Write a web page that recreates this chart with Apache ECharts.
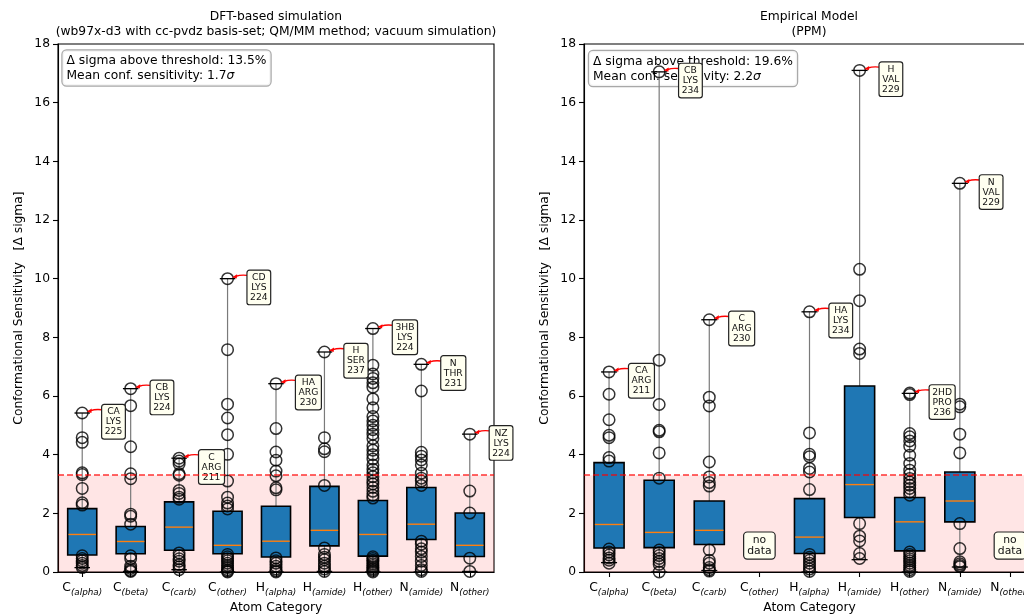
<!DOCTYPE html>
<html><head><meta charset="utf-8">
<script src="https://cdn.jsdelivr.net/npm/echarts@6/dist/echarts.min.js"></script>
<style>html,body{margin:0;padding:0;background:#fff}#c{width:1024px;height:614px}</style>
</head><body><div id="c"></div>
<script>
// ---------- data ----------
const catBase = ['C','C','C','C','H','H','H','N','N'];
const catSub  = ['alpha','beta','carb','other','alpha','amide','other','amide','other'];
const categories = catBase.map((b, i) => b + '(' + catSub[i] + ')');
const yTicksMax = 18;
const threshold = 3.3;

// box stats: [min, q1, median, q3, max]
const dftBoxes = [
  [0.15, 0.58, 1.28, 2.16, 5.42],
  [0.02, 0.62, 1.04, 1.55, 6.25],
  [0.08, 0.74, 1.53, 2.39, 3.88],
  [0.00, 0.62, 0.91, 2.07, 10.0],
  [0.00, 0.51, 1.05, 2.24, 6.42],
  [0.02, 0.89, 1.42, 2.92, 7.50],
  [0.00, 0.54, 1.28, 2.44, 8.30],
  [0.00, 1.11, 1.63, 2.88, 7.08],
  [0.02, 0.53, 0.91, 2.01, 4.70]
];
const ppmBoxes = [
  [0.32, 0.82, 1.62, 3.73, 6.82],
  [0.00, 0.83, 1.35, 3.13, 17.05],
  [0.05, 0.94, 1.42, 2.42, 8.60],
  null,
  [0.00, 0.63, 1.19, 2.50, 8.87],
  [0.42, 1.86, 2.98, 6.34, 17.10],
  [0.00, 0.72, 1.71, 2.54, 6.09],
  [0.17, 1.71, 2.42, 3.41, 13.25],
  null
];

// individual points outside the boxes
const dftPoints = [
  [5.42, 4.58, 4.42, 3.38, 3.32, 2.85, 2.36, 2.28, 0.55, 0.46, 0.38, 0.30, 0.22, 0.15],
  [6.25, 5.67, 4.27, 3.35, 3.18, 1.97, 1.90, 1.63, 0.55, 0.45, 0.20, 0.12, 0.05, 0.02],
  [3.88, 3.78, 3.68, 3.35, 3.30, 2.78, 2.68, 2.55, 2.48, 0.65, 0.55, 0.45, 0.37, 0.25, 0.17, 0.08],
  [10.0, 7.58, 5.72, 5.25, 4.68, 4.01, 3.10, 2.55, 2.35, 2.25, 2.15, 0.60, 0.52, 0.45, 0.38, 0.30, 0.22, 0.15, 0.08, 0.03, 0.00],
  [6.42, 4.89, 4.09, 3.81, 3.44, 3.28, 2.87, 2.80, 0.48, 0.38, 0.30, 0.20, 0.10, 0.04, 0.00],
  [7.50, 4.58, 4.20, 4.10, 2.95, 0.82, 0.60, 0.50, 0.42, 0.30, 0.20, 0.10, 0.02],
  [8.30, 7.05, 6.75, 6.60, 6.45, 6.30, 5.90, 5.60, 5.30, 5.15, 5.00, 4.85, 4.70, 4.55, 4.30, 4.15, 4.00, 3.85, 3.65, 3.50, 3.38, 3.25, 3.10, 3.00, 2.88, 2.75, 2.62, 2.52,
   0.52, 0.46, 0.40, 0.34, 0.28, 0.22, 0.16, 0.10, 0.05, 0.00],
  [7.08, 6.17, 4.08, 3.95, 3.82, 3.65, 3.37, 3.20, 3.10, 2.95, 1.05, 0.95, 0.79, 0.68, 0.53, 0.37, 0.22, 0.08, 0.02],
  [4.70, 2.76, 2.01, 0.47, 0.02]
];
const ppmPoints = [
  [6.82, 6.06, 5.19, 4.66, 4.58, 3.90, 3.78, 0.78, 0.68, 0.58, 0.48, 0.40, 0.30],
  [17.05, 7.22, 5.71, 4.83, 4.78, 4.06, 3.20, 0.75, 0.66, 0.56, 0.46, 0.36, 0.26, 0.00],
  [8.60, 5.96, 5.66, 3.75, 3.24, 3.05, 2.93, 0.75, 0.40, 0.30, 0.15, 0.08, 0.03],
  [],
  [8.87, 4.74, 4.01, 3.93, 3.53, 3.41, 2.81, 0.60, 0.50, 0.40, 0.30, 0.20, 0.10, 0.02],
  [17.10, 10.32, 9.25, 7.60, 7.45, 1.65, 1.22, 1.06, 0.63, 0.46],
  [6.10, 6.05, 4.72, 4.61, 4.47, 4.29, 3.98, 3.70, 3.47, 3.33, 3.19, 3.07, 2.96, 2.85, 2.73, 2.62,
   0.68, 0.60, 0.52, 0.45, 0.38, 0.30, 0.22, 0.15, 0.08, 0.02],
  [13.25, 5.72, 5.63, 4.70, 4.06, 1.65, 0.80, 0.35, 0.28, 0.22, 0.18],
  []
];

// labels of the maximum point of each category
const dftMaxLabels = ['CA\nLYS\n225','CB\nLYS\n224','C\nARG\n211','CD\nLYS\n224','HA\nARG\n230','H\nSER\n237','3HB\nLYS\n224','N\nTHR\n231','NZ\nLYS\n224'];
const ppmMaxLabels = ['CA\nARG\n211','CB\nLYS\n234','C\nARG\n230', null,'HA\nLYS\n234','H\nVAL\n229','2HD\nPRO\n236','N\nVAL\n229', null];
const noDataY = 0.9;

const dftStats = { above: '13.5%', mean: '1.7' };
const ppmStats = { above: '19.6%', mean: '2.2' };

// ---------- helpers ----------
const FF = '"DejaVu Sans", sans-serif';
const FS = 12.3;
const mctx = document.createElement('canvas').getContext('2d');
function textW(s, font) { mctx.font = font; return mctx.measureText(s).width; }

function boxRender(params, api) {
  const i = api.value(0);
  const band = api.size([1, 0])[0];
  const bw = band * 0.6, cw = band * 0.32;
  const pmn = api.coord([i, api.value(1)]), pq1 = api.coord([i, api.value(2)]),
        pmd = api.coord([i, api.value(3)]), pq3 = api.coord([i, api.value(4)]),
        pmx = api.coord([i, api.value(5)]);
  const cx = pmn[0];
  return { type: 'group', children: [
    { type: 'line', shape: { x1: cx, y1: pmn[1], x2: cx, y2: pq1[1] }, style: { stroke: '#7a7a7a', lineWidth: 1.2 } },
    { type: 'line', shape: { x1: cx, y1: pq3[1], x2: cx, y2: pmx[1] }, style: { stroke: '#7a7a7a', lineWidth: 1.2 } },
    { type: 'line', shape: { x1: cx - cw / 2, y1: pmn[1], x2: cx + cw / 2, y2: pmn[1] }, style: { stroke: '#000', lineWidth: 1.3 } },
    { type: 'line', shape: { x1: cx - cw / 2, y1: pmx[1], x2: cx + cw / 2, y2: pmx[1] }, style: { stroke: '#000', lineWidth: 1.3 } },
    { type: 'rect', shape: { x: cx - bw / 2, y: pq3[1], width: bw, height: pq1[1] - pq3[1] }, style: { fill: '#1f77b4', stroke: '#000', lineWidth: 1.6 } },
    { type: 'line', shape: { x1: cx - bw / 2 + 0.8, y1: pmd[1], x2: cx + bw / 2 - 0.8, y2: pmd[1] }, style: { stroke: '#ff7f0e', lineWidth: 1.4 } }
  ]};
}

const annFont = '9.2px ' + FF;
function annotRender(labels) {
  return function (params, api) {
    const i = api.value(0);
    const p = api.coord([i, api.value(1)]);
    const txt = labels[i];
    const lines = txt.split('\n');
    const w = Math.max(...lines.map(l => textW(l, annFont))) + 5;
    const x = p[0], y = p[1];
    return { type: 'group', children: [
      { type: 'bezierCurve', shape: { x1: x + 19.5, y1: y - 3.3, cpx1: x + 13, cpy1: y - 4, x2: x + 8.5, y2: y - 2.4 },
        style: { stroke: '#ff0000', lineWidth: 1.4, fill: null } },
      { type: 'polygon', shape: { points: [[x + 4.5, y - 1.5], [x + 9.6, y - 4.4], [x + 9.2, y - 0.1]] }, style: { fill: '#ff0000' } },
      { type: 'text', x: x + 20 + w / 2, y: y - 8,
        style: { text: txt, font: annFont, fill: '#111', align: 'center', verticalAlign: 'top', lineHeight: 10,
                 backgroundColor: '#fffff0', borderColor: '#222', borderWidth: 1.2, borderRadius: 2, padding: [2, 2.5, 1.5, 2.5] } }
    ]};
  };
}

function noDataRender(params, api) {
  const p = api.coord([api.value(0), api.value(1)]);
  return { type: 'text', x: p[0], y: p[1],
    style: { text: 'no\ndata', font: '10.8px ' + FF, fill: '#111', align: 'center', verticalAlign: 'middle', lineHeight: 11.5,
             backgroundColor: '#fffff0', borderColor: '#222', borderWidth: 1.2, borderRadius: 3, padding: [2, 3, 1, 3] } };
}

function panelSeries(idx, boxes, points, labels) {
  const boxData = [], annData = [], noData = [];
  boxes.forEach((b, i) => {
    if (b) { boxData.push([i, ...b]); if (labels[i]) annData.push([i, b[4]]); }
    else noData.push([i, noDataY]);
  });
  const pts = [];
  points.forEach((arr, i) => arr.forEach(v => pts.push([i, v])));
  return [
    { type: 'line', xAxisIndex: idx, yAxisIndex: idx, data: [], z: 1, silent: true,
      markArea: { silent: true, itemStyle: { color: 'rgba(255,0,0,0.1)' }, data: [[{ yAxis: 0 }, { yAxis: threshold }]] },
      markLine: { silent: true, symbol: 'none', label: { show: false },
        lineStyle: { color: '#ff0000', opacity: 0.8, width: 1.6, type: [6, 3] }, data: [{ yAxis: threshold }] } },
    { type: 'custom', xAxisIndex: idx, yAxisIndex: idx, z: 2, renderItem: boxRender,
      encode: { x: 0, y: [1, 2, 3, 4, 5] }, data: boxData, silent: true },
    { type: 'scatter', xAxisIndex: idx, yAxisIndex: idx, z: 3, symbol: 'circle', symbolSize: 11.5, silent: true,
      itemStyle: { color: 'rgba(0,0,0,0)', borderColor: '#000', borderWidth: 1.5 }, data: pts },
    { type: 'custom', xAxisIndex: idx, yAxisIndex: idx, z: 4, renderItem: annotRender(labels),
      encode: { x: 0, y: 1 }, data: annData, silent: true },
    { type: 'custom', xAxisIndex: idx, yAxisIndex: idx, z: 4, renderItem: noDataRender,
      encode: { x: 0, y: 1 }, data: noData, silent: true }
  ];
}

function xAxisDef(idx) {
  return {
    type: 'category', gridIndex: idx, data: categories,
    name: 'Atom Category', nameLocation: 'middle', nameGap: 30,
    nameTextStyle: { fontFamily: FF, fontSize: FS, color: '#000', verticalAlign: 'top' },
    axisLine: { lineStyle: { color: '#000', width: 1.1 } },
    axisTick: { show: true, alignWithLabel: true, length: 5, lineStyle: { color: '#000', width: 1.1 } },
    axisLabel: {
      interval: 0, margin: 10,
      formatter: (v, i) => '{b|' + catBase[i] + '}{s|(' + catSub[i] + ')}',
      rich: {
        b: { fontFamily: FF, fontSize: FS, color: '#000', lineHeight: 15, verticalAlign: 'top' },
        s: { fontFamily: FF, fontSize: 8.8, fontStyle: 'italic', color: '#000', lineHeight: 8, verticalAlign: 'bottom' }
      }
    },
    splitLine: { show: false }
  };
}
function yAxisDef(idx) {
  return {
    type: 'value', gridIndex: idx, min: 0, max: yTicksMax, interval: 2,
    name: 'Conformational Sensitivity   [Δ sigma]', nameLocation: 'middle', nameGap: 33,
    nameTextStyle: { fontFamily: FF, fontSize: FS, color: '#000' },
    axisLine: { show: true, lineStyle: { color: '#000', width: 1.1 } },
    axisTick: { show: true, length: 5, lineStyle: { color: '#000', width: 1.1 } },
    axisLabel: { fontFamily: FF, fontSize: FS, color: '#000', margin: 8 },
    splitLine: { show: false }
  };
}

function statsText(x, y, st) {
  return { type: 'text', x: x, y: y, z: 1,
    style: { text: '{n|Δ sigma above threshold: ' + st.above + '}\n{n|Mean conf. sensitivity: ' + st.mean + '}{i|σ}',
      rich: { n: { font: FS + 'px ' + FF, fill: '#000', lineHeight: 15 }, i: { font: 'italic ' + FS + 'px ' + FF, fill: '#000', lineHeight: 15 } },
      backgroundColor: 'rgba(255,255,255,0.85)', borderColor: '#a8a8a8', borderWidth: 1.2, borderRadius: 4, padding: [3, 4, 2, 4] } };
}
function titleText(x, y, s) {
  return { type: 'text', x: x, y: y, style: { text: s, font: FS + 'px ' + FF, fill: '#000', align: 'center', verticalAlign: 'middle', lineHeight: 15 } };
}

const chart = echarts.init(document.getElementById('c'));
chart.setOption({
  animation: false,
  backgroundColor: '#fff',
  grid: [
    { left: 58, top: 44, width: 436, height: 528, outerBoundsMode: 'none', containLabel: false,
      show: true, borderColor: '#000', borderWidth: 1.1, backgroundColor: 'transparent' },
    { left: 584, top: 44, width: 451, height: 528, outerBoundsMode: 'none', containLabel: false,
      show: true, borderColor: '#000', borderWidth: 1.1, backgroundColor: 'transparent' }
  ],
  xAxis: [xAxisDef(0), xAxisDef(1)],
  yAxis: [yAxisDef(0), yAxisDef(1)],
  graphic: [
    titleText(276, 24, 'DFT-based simulation\n(wb97x-d3 with cc-pvdz basis-set; QM/MM method; vacuum simulation)'),
    titleText(809, 24.5, 'Empirical Model\n(PPM)'),
    statsText(62.5, 50.5, dftStats),
    statsText(589, 51, ppmStats)
  ],
  series: [
    ...panelSeries(0, dftBoxes, dftPoints, dftMaxLabels),
    ...panelSeries(1, ppmBoxes, ppmPoints, ppmMaxLabels)
  ]
});
</script></body></html>
